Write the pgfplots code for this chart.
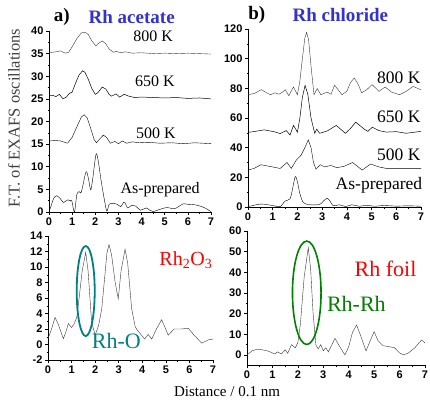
\documentclass[border=0pt]{standalone}
\usepackage{fontspec}
\setmainfont{Liberation Serif}
\newfontfamily\ticksf{Liberation Sans}
\usepackage{pgfplots}
\pgfplotsset{compat=1.18}
\definecolor{titleblue}{RGB}{51,51,204}
\definecolor{curve}{RGB}{55,55,55}
\definecolor{tealc}{RGB}{0,128,128}
\definecolor{greenc}{RGB}{0,128,0}
\pgfplotsset{panel/.style={
  scale only axis, anchor=south west,
  axis x line=bottom, axis y line=left,
  axis line style={-, black, line width=0.6pt},
  tick align=outside, major tick length=3pt, minor tick length=1.5pt,
  tick style={black, line width=0.5pt},
  xmin=0, xmax=7, xtick={0,...,7},
  minor x tick num=1, minor y tick num=1,
  ticklabel style={font=\ticksf\bfseries\fontsize{11}{11}\selectfont},
  xticklabel style={yshift=1pt}, yticklabel style={xshift=1pt},
  /pgf/number format/assume math mode=true,
  cycle list={{curve, line width=0.5pt, mark=none, smooth, tension=0.35}},
  clip=false}}
\begin{document}
\begin{tikzpicture}
\path[use as bounding box] (0,0) rectangle (430pt,399pt);
% ---------- a) Rh acetate ----------
\begin{axis}[panel, at={(49pt,187pt)}, width=162pt, height=181pt,
  ymin=0, ymax=40, ytick={0,5,...,40}]
\addplot coordinates {(0,35.2)(0.3,35.4)(0.5,35.6)(0.7,35.1)(0.85,35.3)(1.0,36.5)(1.2,38.3)(1.4,39.6)(1.56,39.7)(1.7,39.2)(1.85,37.8)(2.03,36.7)(2.15,37.3)(2.3,37.8)(2.45,37.2)(2.6,36.0)(2.78,35.3)(2.9,35.5)(3.1,35.2)(3.3,35.4)(3.6,35.1)(4.0,35.2)(4.5,35.0)(5.0,35.1)(5.5,35.0)(6.0,35.1)(6.5,35.0)(7.0,34.9)};
\addplot coordinates {(0,25.8)(0.15,25.8)(0.3,25.5)(0.45,26.0)(0.6,25.0)(0.75,25.4)(0.88,26.2)(1.0,26.5)(1.15,28.5)(1.3,30.3)(1.45,31.2)(1.55,30.9)(1.7,29.3)(1.85,27.3)(2.0,26.0)(2.1,26.3)(2.3,27.6)(2.45,27.2)(2.6,26.0)(2.7,25.6)(2.9,26.1)(3.05,25.4)(3.25,26.0)(3.45,25.6)(3.7,25.3)(4.0,25.4)(4.5,25.3)(5.0,25.2)(5.5,25.3)(6.0,25.1)(6.5,25.2)(7.0,25.0)};
\addplot coordinates {(0,15.7)(0.3,15.8)(0.5,15.7)(0.8,15.2)(1.0,16.5)(1.2,18.8)(1.4,21.0)(1.52,21.5)(1.65,20.8)(1.8,18.5)(1.95,16.0)(2.05,15.3)(2.2,16.2)(2.35,17.0)(2.5,16.4)(2.65,15.2)(2.85,15.6)(3.0,15.1)(3.17,15.7)(3.35,15.2)(3.6,15.5)(3.9,15.3)(4.3,15.4)(4.8,15.2)(5.3,15.3)(5.8,15.1)(6.3,15.3)(7.0,15.1)};
\addplot coordinates {(0,0)(0.1,1.5)(0.2,3.0)(0.33,3.6)(0.48,3.0)(0.62,2.1)(0.72,2.4)(0.82,2.7)(0.92,2.4)(0.98,2.6)(1.1,0)(1.2,3.8)(1.3,4.5)(1.38,4.2)(1.45,5.5)(1.6,8.9)(1.7,7.5)(1.8,4.9)(1.88,7.0)(2.03,12.7)(2.12,11.5)(2.25,7.0)(2.4,2.5)(2.5,0.2)(2.6,1.7)(2.75,1.9)(2.95,1.7)(3.1,1.2)(3.25,2.2)(3.4,0.9)(3.55,1.4)(3.75,1.3)(3.95,0.4)(4.2,0.9)(4.35,0.4)(4.5,0.1)(4.8,0.6)(5.1,1.0)(5.4,0.7)(5.6,1.2)(5.8,1.8)(6.0,1.7)(6.3,1.6)(6.6,1.2)(6.85,0.6)(7.0,0)};
\node[font=\fontsize{16}{16}\selectfont] at (axis cs:4.5,38.9) {800 K};
\node[font=\fontsize{16}{16}\selectfont] at (axis cs:4.58,28.8) {650 K};
\node[font=\fontsize{16}{16}\selectfont] at (axis cs:4.62,17.5) {500 K};
\node[font=\fontsize{16}{16}\selectfont] at (axis cs:4.8,4.9) {As-prepared};
\end{axis}
% ---------- b) Rh chloride ----------
\begin{axis}[panel, at={(248pt,192pt)}, width=173pt, height=178pt,
  ymin=0, ymax=120, ytick={0,20,...,120}]
\addplot coordinates {(0,75.7)(0.25,76.5)(0.54,79.1)(0.75,77)(0.91,75.7)(1.1,77)(1.25,76)(1.4,77.5)(1.51,79.1)(1.65,75)(1.84,80.9)(2.0,75.7)(2.1,85)(2.2,100)(2.3,114)(2.37,117.8)(2.45,113)(2.55,95)(2.67,75.7)(2.8,79.8)(2.95,75.7)(3.2,77.5)(3.36,76)(3.5,82)(3.65,79)(3.8,75.7)(4.0,78)(4.15,84)(4.3,87)(4.45,83)(4.6,77)(4.8,79)(5.02,82.5)(5.3,78)(5.55,80.9)(5.8,77.5)(6.13,75.7)(6.4,78)(6.68,81.3)(7.0,79)};
\addplot coordinates {(0,50.3)(0.3,51)(0.65,52)(1.05,50.8)(1.3,49.5)(1.55,51.5)(1.7,48.5)(1.84,55)(2.0,50.5)(2.1,60)(2.2,74)(2.31,82)(2.42,76)(2.55,60)(2.7,49.7)(2.78,52.5)(2.9,49.7)(3.2,51.2)(3.57,55)(3.94,49.7)(4.15,53)(4.36,57.2)(4.7,52.5)(4.85,51)(5.03,53.8)(5.3,51.5)(5.6,50.5)(6.0,50.8)(6.4,49.7)(7.0,51)};
\addplot coordinates {(0,25)(0.25,26)(0.52,28.5)(1.0,27)(1.3,26)(1.58,30)(1.75,26)(1.95,31.5)(2.15,35)(2.3,40)(2.44,45.2)(2.55,40)(2.65,30)(2.75,25.5)(2.92,28.5)(3.1,27)(3.35,28)(3.6,26.5)(3.9,27.5)(4.23,30)(4.62,24.9)(4.96,29)(5.3,27)(5.6,26)(6.2,26)(7.0,26)};
\addplot coordinates {(0,0.3)(0.2,1)(0.5,2)(0.8,1.5)(1.0,1)(1.3,0.3)(1.5,4)(1.7,5.5)(1.8,12)(1.91,20.5)(2.0,17)(2.1,9)(2.24,3)(2.5,1.5)(2.9,1.7)(3.05,4)(3.2,5.9)(3.32,4)(3.45,0.8)(3.7,1.5)(3.95,0.3)(4.2,1.5)(4.5,0.5)(4.8,1.2)(5.1,0.5)(5.5,1)(6.0,0.6)(6.5,0.8)(7.0,0.5)};
\node[font=\fontsize{17.5}{17.5}\selectfont] at (axis cs:6.1,87.2) {800 K};
\node[font=\fontsize{17.5}{17.5}\selectfont] at (axis cs:6.1,60.5) {650 K};
\node[font=\fontsize{17.5}{17.5}\selectfont] at (axis cs:6.1,35.3) {500 K};
\node[font=\fontsize{17.5}{17.5}\selectfont] at (axis cs:5.3,14.9) {As-prepared};
\end{axis}
% ---------- Rh2O3 ----------
\begin{axis}[panel, at={(48pt,39pt)}, width=165pt, height=124pt,
  ymin=-2, ymax=14, ytick={-2,0,...,14}]
\addplot coordinates {(0,0.74)(0.15,2.0)(0.3,3.5)(0.45,2.5)(0.65,0.74)(0.78,1.8)(0.86,2.7)(1.0,2.2)(1.1,2.6)(1.22,3.5)(1.32,6.0)(1.45,9.5)(1.6,11.9)(1.7,9.5)(1.85,2.9)(2.0,1.2)(2.15,2.5)(2.28,4.6)(2.4,8.5)(2.5,11.8)(2.59,12.9)(2.7,11.5)(2.85,8)(2.98,5.9)(3.1,9.5)(3.27,12.3)(3.38,10.5)(3.55,4.6)(3.7,2.3)(3.8,1.8)(3.97,1.2)(4.1,0.7)(4.25,1.3)(4.4,0.7)(4.6,2.0)(4.82,3.2)(4.95,2.3)(5.1,1.2)(5.35,2.0)(5.65,2.0)(5.95,2.1)(6.2,1.2)(6.52,0.17)(6.8,0.6)(7.0,0.7)};
\draw[tealc, line width=1.8pt] (axis cs:1.6,6.9) ellipse [x radius=9pt, y radius=45pt];
\node[tealc, font=\fontsize{22}{22}\selectfont] at (axis cs:2.9,0.5) {Rh-O};
\node[red, font=\fontsize{20}{20}\selectfont] at (axis cs:5.85,10.9) {Rh\textsubscript{2}O\textsubscript{3}};
\end{axis}
% ---------- Rh foil ----------
\begin{axis}[panel, at={(247pt,33.7pt)}, width=178pt, height=134.3pt,
  ymin=-5, ymax=60, ytick={0,10,...,60}]
\addplot coordinates {(0,0)(0.2,2)(0.4,2.8)(0.6,2.5)(0.8,2.0)(1.1,0.5)(1.2,1.5)(1.35,0.5)(1.5,2.5)(1.6,0.8)(1.75,5.0)(1.9,3.5)(2.0,6)(2.1,15)(2.25,38)(2.41,51.9)(2.5,42)(2.6,20)(2.71,4.8)(2.8,3)(2.9,5)(3.0,2)(3.1,3.5)(3.2,1.5)(3.3,4)(3.46,8.1)(3.6,5)(3.85,0)(4.0,4)(4.15,11)(4.31,14.5)(4.45,10)(4.68,2)(4.85,7)(5.0,11.3)(5.15,7)(5.35,4.5)(5.6,4)(5.8,3.5)(6.0,1)(6.15,0)(6.35,1)(6.6,3.5)(6.87,7.3)(7.0,5.8)};
\draw[greenc, line width=1.6pt] (axis cs:2.35,30.1) ellipse [x radius=14.3pt, y radius=51.7pt];
\node[greenc, font=\fontsize{22}{22}\selectfont] at (axis cs:4.3,24.5) {Rh-Rh};
\node[red, font=\fontsize{22}{22}\selectfont] at (axis cs:5.45,41.6) {Rh foil};
\end{axis}
% ---------- titles and labels ----------
\node[font=\bfseries\fontsize{19}{19}\selectfont] at (61.7pt,382.3pt) {a)};
\node[titleblue, font=\bfseries\fontsize{19}{19}\selectfont] at (131.7pt,382.3pt) {Rh acetate};
\node[font=\bfseries\fontsize{19}{19}\selectfont] at (256.7pt,384pt) {b)};
\node[titleblue, font=\bfseries\fontsize{19}{19}\selectfont] at (340.3pt,384pt) {Rh chloride};
\node[rotate=90, font=\fontsize{16.5}{16.5}\selectfont, color=black!75] at (14pt,281pt) {F.T. of EXAFS oscillations};
\node[font=\fontsize{15}{15}\selectfont] at (227pt,7.3pt) {Distance / 0.1 nm};
\end{tikzpicture}
\end{document}
